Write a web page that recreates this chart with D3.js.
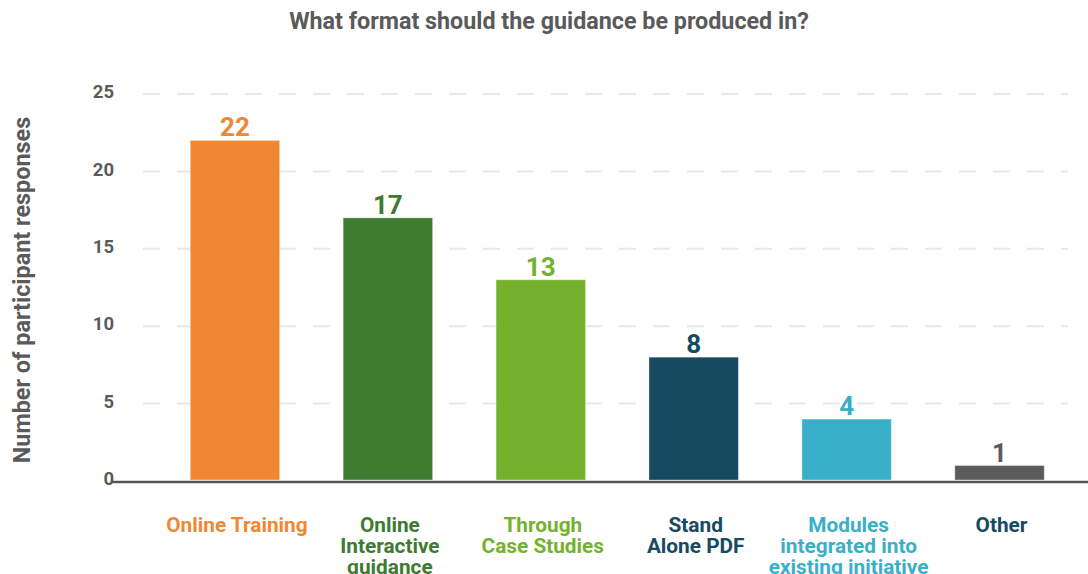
<!DOCTYPE html>
<html>
<head>
<meta charset="utf-8">
<script src="https://cdn.jsdelivr.net/npm/d3@7"></script>
<style>
  html, body { margin: 0; padding: 0; background: #fff; }
  svg { display: block; font-family: Roboto, "Noto Sans", sans-serif; }
</style>
</head>
<body>
<svg id="chart" width="1088" height="574"></svg>
<script>
// Survey responses: preferred format for the guidance
const categories = [
  ["Online Training"],
  ["Online", "Interactive", "guidance"],
  ["Through", "Case Studies"],
  ["Stand", "Alone PDF"],
  ["Modules", "integrated into", "existing initiative"],
  ["Other"]
];
const responses = [22, 17, 13, 8, 4, 1];
const barColors = ["#F08833", "#3D7B30", "#74B22E", "#154A60", "#3AAFC9", "#5B5B5B"];
const labelColors = ["#F08833", "#3D7B30", "#74B22E", "#154A60", "#3AAFC9", "#154A60"];
const valueColors = ["#F08833", "#3D7B30", "#74B22E", "#154A60", "#3AAFC9", "#5B5B5B"];
const yTicks = [0, 5, 10, 15, 20, 25];

const svg = d3.select("#chart");
const keys = categories.map((c, i) => i);

const x = d3.scaleBand()
  .domain(keys)
  .range([158.5, 1076])
  .paddingInner(0.415)
  .paddingOuter(0.2075);

const y = d3.scaleLinear()
  .domain([0, 25])
  .range([481, 94]);

// Title
svg.append("text")
  .attr("x", 549)
  .attr("y", 29)
  .attr("text-anchor", "middle")
  .attr("font-size", 23.3)
  .attr("font-weight", 700)
  .attr("fill", "#5A5A5A")
  .text("What format should the guidance be produced in?");

// Dashed gridlines
svg.append("g")
  .selectAll("line")
  .data(yTicks.filter(d => d > 0))
  .join("line")
  .attr("x1", 143)
  .attr("x2", 1068)
  .attr("y1", d => y(d))
  .attr("y2", d => y(d))
  .attr("stroke", "#E8E8E8")
  .attr("stroke-width", 2)
  .attr("stroke-dasharray", "17 17");

// Y axis tick labels
const yAxis = d3.axisLeft(y).tickValues(yTicks).tickSize(0).tickPadding(0);
const yg = svg.append("g")
  .attr("transform", "translate(114,-3)")
  .call(yAxis);
yg.select(".domain").remove();
yg.selectAll("text")
  .attr("font-family", "Roboto, sans-serif")
  .attr("font-size", 18.5)
  .attr("font-weight", 700)
  .attr("fill", "#5A5A5A")
  .attr("dy", "0.36em");

// Y axis title
svg.append("text")
  .attr("transform", "translate(30,290) rotate(-90)")
  .attr("text-anchor", "middle")
  .attr("font-size", 23.4)
  .attr("font-weight", 700)
  .attr("fill", "#5A5A5A")
  .text("Number of participant responses");

// Bars (thin light edge on each)
svg.append("g")
  .selectAll("rect")
  .data(responses)
  .join("rect")
  .attr("x", (d, i) => x(i))
  .attr("width", x.bandwidth())
  .attr("y", d => y(d))
  .attr("height", d => y(0) - y(d) - 1)
  .attr("fill", (d, i) => barColors[i])
  .attr("stroke", "rgba(255,255,255,0.35)")
  .attr("stroke-width", 1);

// Value labels
svg.append("g")
  .selectAll("text")
  .data(responses)
  .join("text")
  .attr("x", (d, i) => x(i) + x.bandwidth() / 2)
  .attr("y", d => y(d) - 4)
  .attr("text-anchor", "middle")
  .attr("font-size", 26)
  .attr("font-weight", 700)
  .attr("fill", (d, i) => valueColors[i])
  .text(d => d);

// Baseline
svg.append("line")
  .attr("x1", 112)
  .attr("x2", 1088)
  .attr("y1", y(0) + 1)
  .attr("y2", y(0) + 1)
  .attr("stroke", "#555555")
  .attr("stroke-width", 2.5);

// Category labels
const xl = svg.append("g")
  .selectAll("text")
  .data(categories)
  .join("text")
  .attr("x", (d, i) => x(i) + x.bandwidth() / 2 + 2)
  .attr("y", 532)
  .attr("text-anchor", "middle")
  .attr("font-size", 20.8)
  .attr("font-weight", 700)
  .attr("fill", (d, i) => labelColors[i]);
xl.selectAll("tspan")
  .data(d => d)
  .join("tspan")
  .attr("x", function () { return d3.select(this.parentNode).attr("x"); })
  .attr("dy", (d, j) => j === 0 ? 0 : 21)
  .text(d => d);
</script>
</body>
</html>
